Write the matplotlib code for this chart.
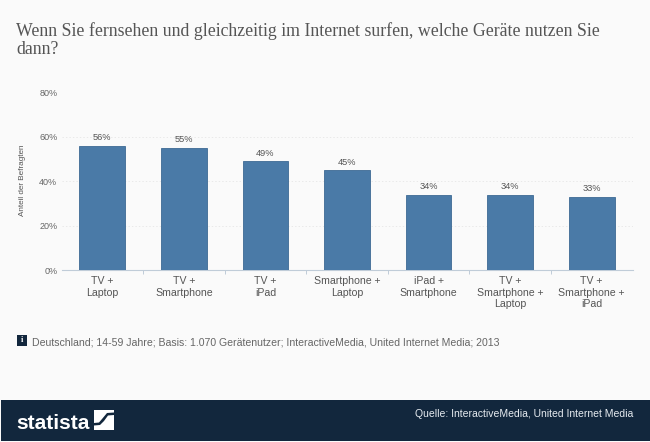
import matplotlib
matplotlib.use('Agg')
import matplotlib.pyplot as plt
from matplotlib.patches import Rectangle, Polygon

categories = ['TV +\nLaptop', 'TV +\nSmartphone', 'TV +\niPad', 'Smartphone +\nLaptop',
              'iPad +\nSmartphone', 'TV +\nSmartphone +\nLaptop', 'TV +\nSmartphone +\niPad']
values = [56, 55, 49, 45, 34, 34, 33]
y_ticks = [0, 20, 40, 60, 80]

W, H = 650, 442
BG = '#fafafa'
NAVY = '#12273d'
plt.rcParams['font.family'] = ['Liberation Sans', 'DejaVu Sans']

fig = plt.figure(figsize=(W / 100, H / 100), dpi=100, facecolor=BG)


def fx(px):
    return px / W


def fy(py):
    return 1 - py / H


# plot area
ax = fig.add_axes([fx(61.5), fy(270), fx(632.5 - 61.5), (270 - 92.5) / H], facecolor='none')
x = range(len(values))
ax.bar(x, values, width=0.56, color='#4a7aa7', edgecolor='#3d6a94', linewidth=0.6, zorder=3)
for i, v in zip(x, values):
    ax.text(i, v + 1.6, f'{v}%', ha='center', va='bottom', fontsize=6.7, color='#555555')

ax.set_xlim(-0.5, len(values) - 0.5)
ax.set_ylim(0, 80)
ax.set_yticks(y_ticks)
ax.set_yticklabels([f'{t}%' for t in y_ticks], fontsize=6.5, color='#666666')
ax.set_xticks(list(x))
ax.set_xticklabels(categories, fontsize=7.6, color='#555555', linespacing=1.2)
ax.tick_params(axis='y', length=0, pad=3)
ax.tick_params(axis='x', length=0, pad=4.5)
ax.set_xticks([i + 0.5 for i in range(len(values) - 1)], minor=True)
ax.tick_params(axis='x', which='minor', length=3, color='#c0ccd8', width=0.7)
ax.grid(axis='y', color='#e2e2e2', linestyle=(0, (2, 3)), linewidth=0.5, zorder=0)
for side in ['top', 'right', 'left']:
    ax.spines[side].set_visible(False)
ax.spines['bottom'].set_color('#c0ccd8')
ax.spines['bottom'].set_linewidth(0.8)
ax.set_ylabel('Anteil der Befragten', fontsize=5.9, color='#555555')
ax.yaxis.set_label_coords((26 - 61.5) / (632.5 - 61.5), 0.505)

# title
fig.text(fx(16), fy(36), 'Wenn Sie fernsehen und gleichzeitig im Internet surfen, welche Geräte nutzen Sie',
         fontsize=12.8, family='Liberation Serif', color='#555555', va='baseline')
fig.text(fx(16), fy(54), 'dann?', fontsize=12.8, family='Liberation Serif', color='#555555', va='baseline')

# info note
fig.add_artist(Rectangle((fx(17), fy(346)), 10 / W, 11 / H, transform=fig.transFigure,
                         facecolor=NAVY, edgecolor='none'))
fig.text(fx(22), fy(340.5), 'i', fontsize=6, color='white', ha='center', va='center',
         family='Liberation Serif', weight='bold')
fig.text(fx(32.5), fy(345.5), 'Deutschland; 14-59 Jahre; Basis: 1.070 Gerätenutzer; InteractiveMedia, United Internet Media; 2013',
         fontsize=7.55, color='#666666', va='baseline')

# footer bar
fig.add_artist(Rectangle((fx(1), fy(441)), 649 / W, 41 / H, transform=fig.transFigure,
                         facecolor=NAVY, edgecolor='none'))
fig.text(fx(16), fy(429), 'statista', fontsize=15, weight='bold', color='white', va='baseline')
fig.add_artist(Rectangle((fx(94), fy(430)), 20 / W, 20 / H, transform=fig.transFigure,
                         facecolor='white', edgecolor='none'))
s_curve = [(94, 425.5), (100, 425), (104, 421), (108, 415.5), (114, 415), (114, 412.5), (107, 413),
           (102, 419), (99, 422.5), (94, 423)]
fig.add_artist(Polygon([(fx(a), fy(b)) for a, b in s_curve], transform=fig.transFigure,
                       facecolor=NAVY, edgecolor='none'))
fig.text(fx(633), fy(417), 'Quelle: InteractiveMedia, United Internet Media', fontsize=7.45,
         color='#e6ebf0', ha='right', va='baseline')

fig.savefig('out.png', dpi=100, facecolor=BG)
